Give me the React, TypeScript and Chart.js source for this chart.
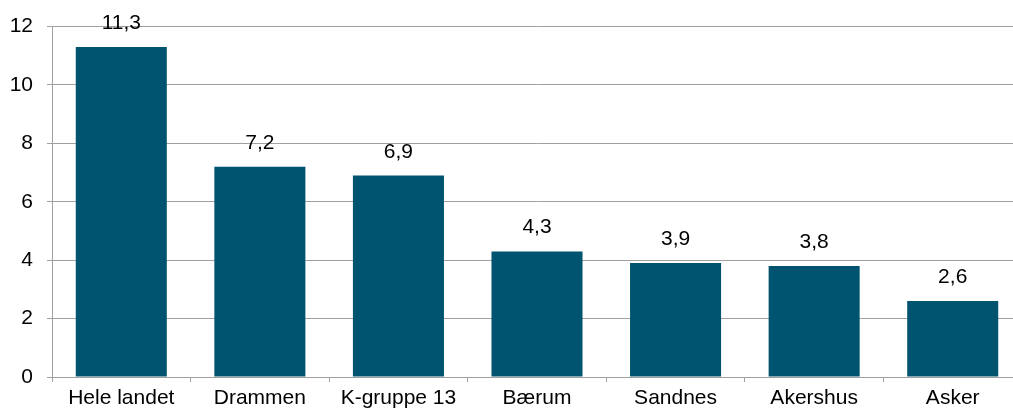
import React, { useEffect, useRef } from "react";
import { Chart, registerables } from "chart.js";

Chart.register(...registerables);

const categories = ["Hele landet", "Drammen", "K-gruppe 13", "Bærum", "Sandnes", "Akershus", "Asker"];
const values = [11.3, 7.2, 6.9, 4.3, 3.9, 3.8, 2.6];
const valueLabels = ["11,3", "7,2", "6,9", "4,3", "3,9", "3,8", "2,6"];
const yTicks = [0, 2, 4, 6, 8, 10, 12];

const FONT = "'Liberation Sans', Arial, sans-serif";
const BAR = "#00546F";
const GRID = "#A0A0A0";

const labelPlugin = {
  id: "valueLabels",
  afterDatasetsDraw(chart: any) {
    const ctx = chart.ctx;
    const meta = chart.getDatasetMeta(0);
    ctx.save();
    ctx.font = `21px ${FONT}`;
    ctx.fillStyle = "#000";
    ctx.textAlign = "center";
    ctx.textBaseline = "alphabetic";
    meta.data.forEach((bar: any, i: number) => {
      ctx.fillText(valueLabels[i], bar.x, bar.y - 18);
    });
    ctx.restore();
  },
};

export default function App() {
  const ref = useRef<HTMLCanvasElement>(null);
  useEffect(() => {
    if (!ref.current) return;
    const chart = new Chart(ref.current, {
      type: "bar",
      data: {
        labels: categories,
        datasets: [
          {
            data: values,
            backgroundColor: BAR,
            borderWidth: 0,
            categoryPercentage: 1,
            barPercentage: 0.657,
          },
        ],
      },
      options: {
        responsive: false,
        animation: false,
        devicePixelRatio: 1,
        layout: { padding: { top: 26, right: 0, bottom: 0, left: 0 } },
        plugins: { legend: { display: false }, tooltip: { enabled: false } },
        scales: {
          x: {
            afterFit: (s: any) => {
              s.height = 34;
            },
            grid: {
              display: true,
              drawOnChartArea: false,
              drawTicks: true,
              tickLength: 5,
              color: GRID,
              offset: true,
            },
            border: { display: true, color: GRID, width: 1 },
            ticks: {
              color: "#000",
              font: { family: FONT, size: 21 },
              padding: 4,
              maxRotation: 0,
              autoSkip: false,
            },
          },
          y: {
            min: 0,
            max: 12,
            afterFit: (s: any) => {
              s.width = 52;
            },
            afterBuildTicks: (s: any) => {
              s.ticks = yTicks.map((v) => ({ value: v }));
            },
            grid: {
              color: GRID,
              tickLength: 5,
              drawTicks: true,
            },
            border: { display: true, color: GRID, width: 1 },
            ticks: {
              color: "#000",
              font: { family: FONT, size: 21 },
              padding: 14,
              stepSize: 2,
            },
          },
        },
      },
      plugins: [labelPlugin],
    });
    return () => chart.destroy();
  }, []);
  return (
    <div
      style={{
        position: "fixed",
        left: 0,
        top: 0,
        width: 1013,
        height: 411,
        overflow: "hidden",
        background: "#fff",
      }}
    >
      <canvas ref={ref} width={1022} height={411} style={{ display: "block" }} />
    </div>
  );
}
